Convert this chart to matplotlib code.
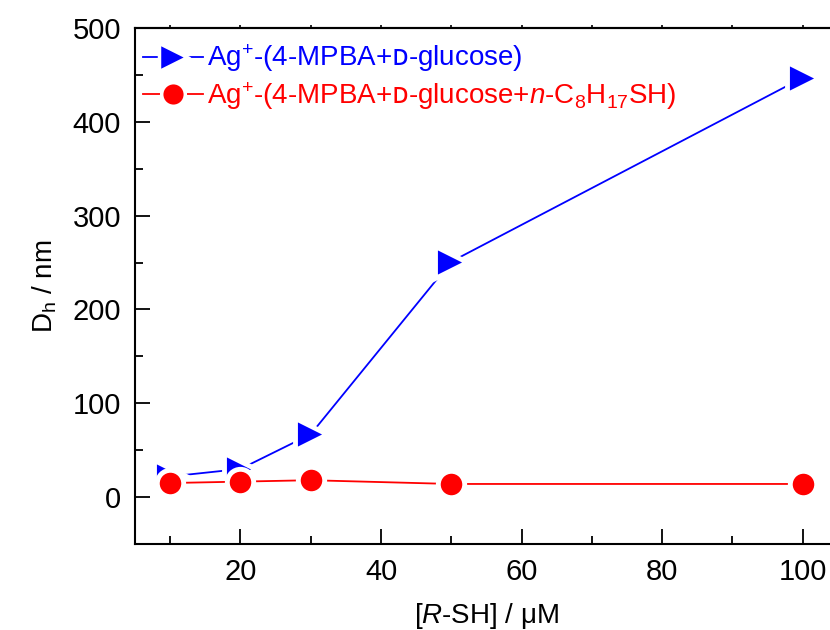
import matplotlib
matplotlib.use('Agg')
import matplotlib.pyplot as plt
from matplotlib.ticker import MultipleLocator

plt.rcParams['font.family'] = ['Liberation Sans', 'DejaVu Sans']
plt.rcParams['mathtext.fontset'] = 'custom'
plt.rcParams['mathtext.rm'] = 'Liberation Sans'
plt.rcParams['mathtext.it'] = 'Liberation Sans:italic'
plt.rcParams['mathtext.sf'] = 'DejaVu Sans'

# data
conc = [10, 20, 30, 50, 100]
dh_glucose = [22, 30, 67, 251, 447]
dh_thiol = [15, 16.5, 18, 14, 14]

label_glucose = r'Ag$^{+}$-(4-MPBA+$\mathsf{ᴅ}$-glucose)'
label_thiol = r'Ag$^{+}$-(4-MPBA+$\mathsf{ᴅ}$-glucose+$\mathit{n}$-C$_{8}$H$_{17}$SH)'

fig = plt.figure(figsize=(8.3, 6.3), dpi=100)
ax = fig.add_axes([0.1627, 0.1365, 0.8467, 0.819])

ax.plot(conc, dh_glucose, color='blue', lw=1.3, marker='>', ms=23,
        mfc='blue', mec='white', mew=3.5, label=label_glucose)
ax.plot(conc, dh_thiol, color='red', lw=1.3, marker='o', ms=19,
        mfc='red', mec='white', mew=3.5, label=label_thiol)

ax.set_xlim(5, 105)
ax.set_ylim(-50, 500)
ax.xaxis.set_major_locator(MultipleLocator(20))
ax.xaxis.set_minor_locator(MultipleLocator(10))
ax.yaxis.set_major_locator(MultipleLocator(100))
ax.yaxis.set_minor_locator(MultipleLocator(50))
ax.tick_params(which='both', direction='in', width=1.3, labelsize=21, pad=10)
ax.tick_params(which='major', length=11)
ax.tick_params(which='minor', length=6)
for s in ax.spines.values():
    s.set_linewidth(1.5)

# short outward ticks on the top edge
top = ax.secondary_xaxis('top')
top.xaxis.set_major_locator(MultipleLocator(20))
top.xaxis.set_minor_locator(MultipleLocator(10))
top.tick_params(which='both', direction='out', length=2.5, width=1.2,
                labeltop=False)
top.spines['top'].set_linewidth(1.5)

ax.set_xlabel(r'[$\mathit{R}$-SH] / μM', fontsize=20, labelpad=11)
ax.set_ylabel(r'D$_{\mathrm{h}}$ / nm', fontsize=20, labelpad=10)

leg = ax.legend(loc='upper left', bbox_to_anchor=(0.0, 0.988), frameon=False,
                fontsize=20, handlelength=2.15, handletextpad=0.15,
                borderpad=0.3, borderaxespad=0.0, labelspacing=0.2,
                labelcolor='linecolor')
for h, size in zip(leg.legend_handles, [20, 17]):
    h.set_markersize(size)
    h.set_markeredgewidth(2.5)

fig.savefig('out.png', dpi=100)
